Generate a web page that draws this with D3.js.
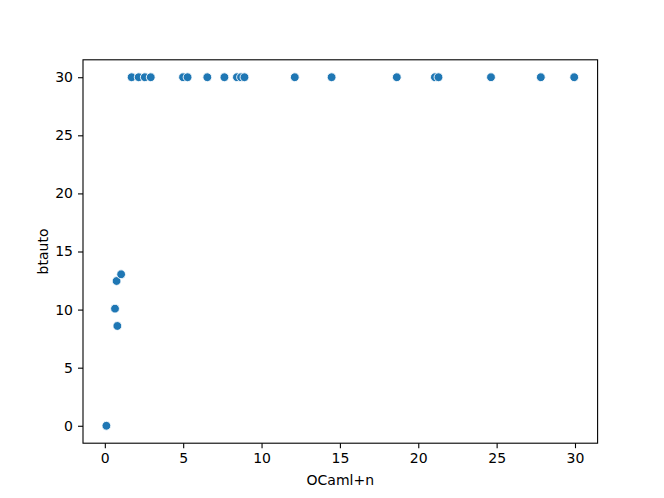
<!DOCTYPE html>
<html>
<head>
<meta charset="utf-8">
<script src="https://cdnjs.cloudflare.com/ajax/libs/d3/7.8.5/d3.min.js"></script>
<style>
  body { margin: 0; background: #fff; }
  svg text { font-family: "DejaVu Sans", sans-serif; }
  .axis text { font-size: 14px; fill: #000; }
  .axis path, .axis line { stroke: #000; stroke-width: 1.1px; }
  .label { font-size: 14px; fill: #000; }
</style>
</head>
<body>
<svg width="664" height="498"></svg>
<script>
// values
var ocamlN = [0.10, 0.65, 0.75, 0.80, 1.04,
              1.71, 2.16, 2.55, 2.93, 4.99, 5.28, 6.54, 7.63, 8.43, 8.69, 8.91,
              12.12, 14.47, 18.63, 21.06, 21.29, 24.64, 27.82, 29.95];
var btauto = [0.0, 10.08, 12.46, 8.59, 13.04,
              30, 30, 30, 30, 30, 30, 30, 30, 30, 30, 30,
              30, 30, 30, 30, 30, 30, 30, 30];
var xTicks = [0, 5, 10, 15, 20, 25, 30];
var yTicks = [0, 5, 10, 15, 20, 25, 30];

var svg = d3.select("svg");
var plotL = 83, plotR = 597.6, plotT = 59.8, plotB = 443.2;

// matplotlib style 5% margins
var xMin = d3.min(ocamlN), xMax = d3.max(ocamlN),
    yMin = d3.min(btauto), yMax = d3.max(btauto);
var xPad = (xMax - xMin) * 0.05, yPad = (yMax - yMin) * 0.05;

var x = d3.scaleLinear().domain([xMin - xPad, xMax + xPad]).range([plotL, plotR]);
var y = d3.scaleLinear().domain([yMin - yPad, yMax + yPad]).range([plotB, plotT]);

var data = ocamlN.map((v, i) => [v, btauto[i]]);

svg.selectAll(".dot")
  .data(data)
  .enter().append("circle")
    .attr("class", "dot")
    .attr("cx", d => x(d[0]))
    .attr("cy", d => y(d[1]))
    .attr("r", 4.4)
    .attr("fill", "#1f77b4")
    .attr("stroke", "#fff")
    .attr("stroke-width", 0.9);

svg.append("g")
  .attr("class", "axis")
  .attr("transform", "translate(0," + plotB + ")")
  .call(d3.axisBottom(x).tickValues(xTicks).tickSize(5).tickPadding(5).tickSizeOuter(0))
  .call(g => g.select(".domain").remove());

svg.append("g")
  .attr("class", "axis")
  .attr("transform", "translate(" + plotL + ",0)")
  .call(d3.axisLeft(y).tickValues(yTicks).tickSize(5).tickPadding(5).tickSizeOuter(0))
  .call(g => g.select(".domain").remove());

// frame
svg.append("rect")
  .attr("x", plotL).attr("y", plotT)
  .attr("width", plotR - plotL).attr("height", plotB - plotT)
  .attr("fill", "none").attr("stroke", "#000").attr("stroke-width", 1.1);

svg.append("text")
  .attr("class", "label")
  .attr("x", (plotL + plotR) / 2)
  .attr("y", 485)
  .attr("text-anchor", "middle")
  .text("OCaml+n");

svg.append("text")
  .attr("class", "label")
  .attr("transform", "translate(48," + ((plotT + plotB) / 2) + ") rotate(-90)")
  .attr("text-anchor", "middle")
  .text("btauto");
</script>
</body>
</html>
